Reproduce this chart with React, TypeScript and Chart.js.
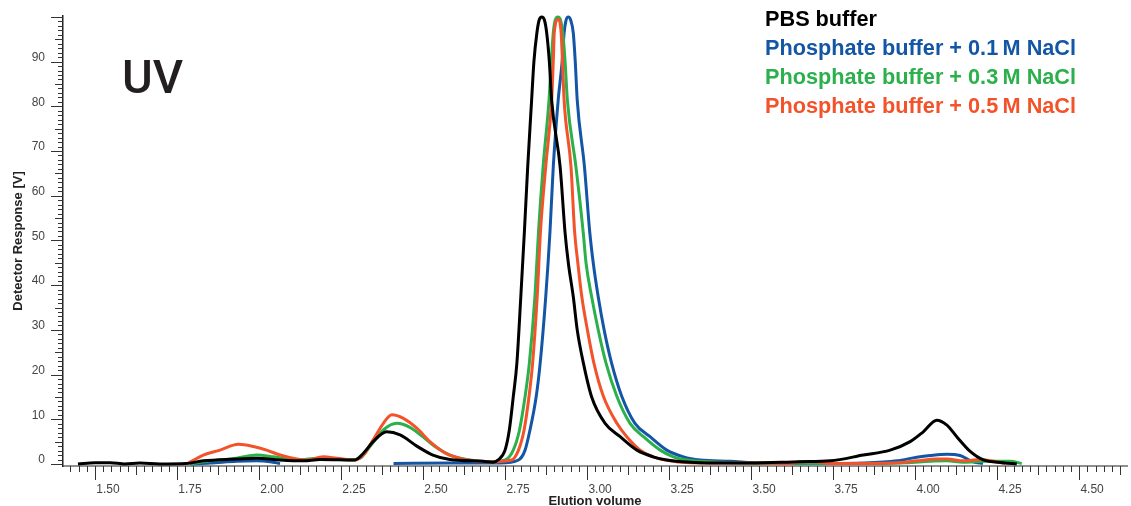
import React, { useEffect, useRef } from "react";
import { Chart, registerables } from "chart.js";

Chart.register(...registerables);

// ---------- data (elution volume, detector response) ----------
const seriesNames = [
  "PBS buffer",
  "Phosphate buffer + 0.1\u2009M NaCl",
  "Phosphate buffer + 0.3\u2009M NaCl",
  "Phosphate buffer + 0.5\u2009M NaCl",
];
const seriesColors = ["#000000", "#1456a6", "#2bb04b", "#f2532a"];

const pbsVol = [1.448,1.5,1.546,1.591,1.637,1.698,1.777,1.83,1.932,1.993,2.064,2.135,2.186,2.293,2.318,2.348,2.389,2.43,2.481,2.53,2.582,2.683,2.713,2.729,2.75,2.763,2.775,2.786,2.798,2.809,2.819,2.831,2.838,2.847,2.854,2.862,2.87,2.877,2.885,2.892,2.918,2.933,2.943,2.958,2.97,2.989,3.014,3.055,3.101,3.152,3.201,3.243,3.345,3.497,3.649,3.741,3.842,3.924,3.985,4.025,4.066,4.097,4.127,4.168,4.208,4.269,4.31];
const pbsResp = [0,0.3,0.3,0,0.2,0,0.1,0.7,1.1,1.3,0.9,0.7,1.0,0.9,2.4,5.0,7.2,6.5,4.0,2.0,1.0,0.6,0.4,0.9,3.1,7.6,15,22.5,37.4,52,66.4,81.4,90,96.4,99.3,100,99.3,96.4,90,81.4,66.4,51.7,44.9,37.4,30,22.5,15,9.1,6.1,3.1,1.6,0.9,0.3,0.2,0.5,0.7,2.0,3.1,5.0,7.2,9.8,8.7,6.1,2.8,0.9,0.3,0];

const na01Vol = [1.79,1.851,1.932,1.993,2.034,2.064,2.2,2.41,2.582,2.735,2.791,2.811,2.826,2.845,2.857,2.874,2.887,2.897,2.912,2.924,2.93,2.936,2.943,2.95,2.958,2.964,2.97,2.992,3.008,3.019,3.034,3.052,3.075,3.106,3.146,3.192,3.243,3.294,3.345,3.436,3.527,3.741,3.841,3.944,4.005,4.046,4.097,4.137,4.177,4.207];
const na01Resp = [0,0.2,0.6,0.7,0.5,0.1,null,0.1,0.2,0.2,0.9,3.1,7.6,15.1,22.5,37.4,52,66.5,81.4,90,96.4,99.3,100,99.3,96.4,90,81.4,66.5,52,44.9,37.4,30,22.5,15.1,9.1,6.1,3.1,1.6,0.9,0.6,0.2,0.1,0.2,0.7,1.5,1.9,2.2,1.9,0.5,0.1];

const na03Vol = [1.79,1.83,1.932,1.993,2.044,2.115,2.186,2.277,2.308,2.338,2.379,2.42,2.46,2.501,2.531,2.582,2.633,2.704,2.75,2.775,2.794,2.811,2.824,2.841,2.852,2.866,2.884,2.891,2.897,2.903,2.911,2.919,2.926,2.933,2.94,2.966,2.988,2.997,3.014,3.034,3.058,3.091,3.131,3.172,3.223,3.263,3.304,3.405,3.527,3.832,3.975,4.046,4.097,4.146,4.219,4.29,4.325];
const na03Resp = [0,0.5,1.3,2.0,1.6,0.9,1.3,0.9,1.3,3.9,7.6,9.1,8.2,6.0,4.2,2.0,1.0,0.5,0.9,3.1,7.6,15.1,22.5,37.4,52,66.5,81.4,90,96.4,99.3,100,99.3,96.4,90,81.4,66.5,52,44.9,37.4,30,22.5,15.1,9.1,6.1,3.1,1.6,0.9,0.4,0.2,0.1,0.3,0.6,0.7,0.4,0.6,0.6,0.1];

const na05Vol = [1.78,1.83,1.881,1.937,1.983,2.023,2.064,2.115,2.145,2.196,2.237,2.293,2.318,2.348,2.379,2.405,2.44,2.481,2.521,2.567,2.628,2.704,2.77,2.791,2.808,2.823,2.834,2.848,2.858,2.874,2.892,2.897,2.9,2.912,2.921,2.925,2.93,2.951,2.962,2.972,2.984,3.001,3.021,3.05,3.091,3.121,3.162,3.202,3.238,3.314,3.527,3.619,3.649,3.695,3.741,3.954,4.005,4.066,4.097,4.147,4.198,4.239,4.274];
const na05Resp = [0,2.0,3.1,4.4,3.9,3.1,2.0,1.1,0.9,1.6,1.3,0.9,2.0,5.4,9.1,11.0,10.2,8.0,5.0,2.5,1.0,0.5,0.9,3.1,7.6,15.1,22.5,37.4,52,66.5,81.4,90,96.4,99.5,96.4,90,81.4,66.5,52,44.9,37.4,30,22.5,15.1,9.1,6.1,3.1,1.6,0.9,0.3,0.2,0.1,0.5,0.5,0.1,0.3,0.7,1.1,1.1,0.7,1.0,0.6,0.1];

const xTickStep = 0.25;
const yTickStep = 10;
const X_MIN = 1.4024;
const X_MAX = 4.646;
const Y_MIN = -0.45;
const Y_MAX = 100.2;

const panelLabel = "UV";
const xTitle = "Elution volume";
const yTitle = "Detector Response [V]";

const toPoints = (xs: number[], ys: (number | null)[]) =>
  xs.map((x, i) => ({ x, y: ys[i] }));

const decor = {
  id: "decor",
  afterDraw(chart: any) {
    const { ctx, chartArea: a, scales } = chart;
    const xs = scales.x;
    const ys = scales.y;
    ctx.save();
    ctx.strokeStyle = "#333";
    ctx.lineWidth = 1;
    for (let i = Math.ceil(xs.min / 0.025 - 1e-6); i * 0.025 <= xs.max + 1e-9; i++) {
      const px = Math.round(xs.getPixelForValue(i * 0.025)) + 0.5;
      const len = i % 10 === 0 ? 14 : i % 5 === 0 ? 9 : 6;
      ctx.beginPath();
      ctx.moveTo(px, a.bottom);
      ctx.lineTo(px, a.bottom + len);
      ctx.stroke();
    }
    for (let v = 0; v <= ys.max; v++) {
      const py = Math.round(ys.getPixelForValue(v)) + 0.5;
      const len = v % 10 === 0 ? 12 : v % 5 === 0 ? 8 : 5;
      ctx.beginPath();
      ctx.moveTo(a.left, py);
      ctx.lineTo(a.left - len, py);
      ctx.stroke();
    }
    ctx.fillStyle = "#231f20";
    ctx.font = '500 47px Roboto, "Liberation Sans", sans-serif';
    ctx.textAlign = "left";
    ctx.textBaseline = "alphabetic";
    ctx.fillText(panelLabel, 122, 93);
    ctx.font = 'bold 21.7px "Liberation Sans", Arial, sans-serif';
    seriesNames.forEach((name, i) => {
      ctx.fillStyle = seriesColors[i];
      ctx.fillText(name, 765, 25.5 + i * 29.3);
    });
    ctx.fillStyle = "#222";
    ctx.font = 'bold 13px "Liberation Sans", Arial, sans-serif';
    ctx.textAlign = "center";
    ctx.fillText(xTitle, (a.left + a.right) / 2, 505);
    ctx.translate(18, (a.top + a.bottom) / 2);
    ctx.rotate(-Math.PI / 2);
    ctx.textBaseline = "middle";
    ctx.fillText(yTitle, 0, 0);
    ctx.restore();
  },
};

export default function App() {
  const canvasRef = useRef<HTMLCanvasElement | null>(null);

  useEffect(() => {
    document.body.style.margin = "0";
    const canvas = canvasRef.current;
    if (!canvas) return;
    const tickFont = { family: '"Liberation Sans", Arial, sans-serif', size: 12 };
    const chart = new Chart(canvas, {
      type: "line",
      data: {
        datasets: [
          { label: seriesNames[0], data: toPoints(pbsVol, pbsResp), borderColor: seriesColors[0] },
          { label: seriesNames[3], data: toPoints(na05Vol, na05Resp), borderColor: seriesColors[3] },
          { label: seriesNames[2], data: toPoints(na03Vol, na03Resp), borderColor: seriesColors[2] },
          { label: seriesNames[1], data: toPoints(na01Vol, na01Resp), borderColor: seriesColors[1] },
        ] as any,
      },
      options: {
        animation: false,
        responsive: true,
        maintainAspectRatio: false,
        layout: { padding: { top: 16, right: 4, left: 0, bottom: 0 } },
        plugins: { legend: { display: false }, tooltip: { enabled: false } },
        elements: {
          point: { radius: 0 },
          line: { borderWidth: 3, cubicInterpolationMode: "monotone", fill: false },
        },
        datasets: { line: { clip: 6, spanGaps: false } } as any,
        scales: {
          x: {
            type: "linear",
            min: X_MIN,
            max: X_MAX,
            afterFit: (s: any) => { s.height = 40; },
            border: { display: true, color: "#8f8f8f", width: 2 },
            grid: { display: true, drawOnChartArea: false, color: "rgba(0,0,0,0)", tickLength: 14 },
            ticks: {
              stepSize: xTickStep,
              includeBounds: false,
              autoSkip: false,
              maxRotation: 0,
              labelOffset: 13,
              padding: 2,
              color: "#444",
              font: tickFont,
              callback: (v: any) => Number(v).toFixed(2),
            },
          },
          y: {
            type: "linear",
            min: Y_MIN,
            max: Y_MAX,
            afterFit: (s: any) => { s.width = 63; },
            border: { display: true, color: "#222", width: 1.5 },
            grid: { display: true, drawOnChartArea: false, color: "rgba(0,0,0,0)", tickLength: 12 },
            ticks: {
              stepSize: yTickStep,
              includeBounds: false,
              autoSkip: false,
              labelOffset: -4,
              padding: 6,
              color: "#444",
              font: tickFont,
              callback: (v: any) => (Number(v) >= 100 ? "" : String(v)),
            },
          },
        },
      } as any,
      plugins: [decor as any],
    });
    return () => chart.destroy();
  }, []);

  return (
    <div style={{ position: "relative", width: 1131, height: 506 }}>
      <canvas ref={canvasRef} />
    </div>
  );
}
